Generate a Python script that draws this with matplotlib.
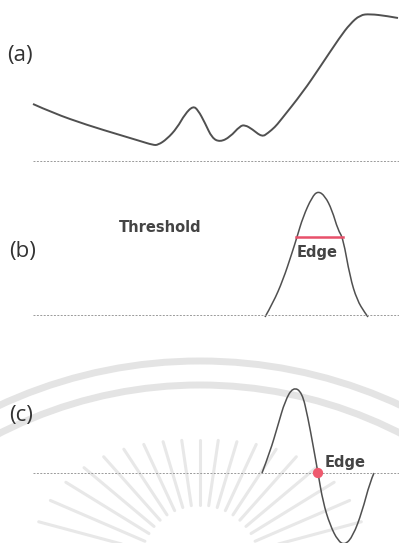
import numpy as np
import matplotlib.pyplot as plt
from matplotlib.patches import Arc, PathPatch
from matplotlib.path import Path

# panel (a): absorption-like spectrum, height above baseline
a_x = [33, 53, 87, 120, 140, 153, 158, 167, 177, 185, 193, 198, 205, 212, 220,
       230, 240, 245, 252, 262, 268, 275, 280, 303, 320, 340, 350, 360, 370, 387, 398]
a_y = [57, 48, 36, 26, 20, 16, 16, 22, 33, 47, 55, 51, 38, 23, 19,
       24, 35, 36, 32, 24, 28, 34, 40, 69, 94, 124, 137, 146, 147, 145, 143]

# panel (b): first derivative peak
b_x = [265, 273, 283, 292, 297, 303, 312, 318, 325, 332, 338, 343, 350, 357, 365, 368]
b_y = [-2, 12, 35, 62, 78, 98, 118, 124, 119, 105, 85, 77, 38, 15, 2, -2]
b_threshold = 78
b_thr_x = [296, 343]

# panel (c): second derivative, zero crossing
c_x = [262, 270, 278, 285, 293, 302, 308, 313, 318, 323, 330, 338, 345, 353, 362, 370, 374]
c_y = [0, 21, 48, 72, 86, 81, 55, 28, 0, -29, -52, -68, -72, -63, -39, -9, 0]
c_edge = (318, 0)

W, H = 399, 543
fig = plt.figure(figsize=(W / 100, H / 100), dpi=100)
fig.patch.set_facecolor('white')

# faint watermark in the background
bg = fig.add_axes([0, 0, 1, 1])
bg.set_xlim(0, W)
bg.set_ylim(H, 0)
bg.axis('off')
wm = '#e4e4e4'
bg.add_patch(Arc((200, 837), 2 * 476, 2 * 476, theta1=180, theta2=360, color=wm, lw=5))
bg.add_patch(Arc((200, 825), 2 * 440, 2 * 440, theta1=180, theta2=360, color=wm, lw=5))
for ang in np.linspace(15, 165, 19):
    t = np.radians(ang)
    r_out = 125 + 45 * np.cos(t) ** 2
    bg.plot([200 + 60 * np.cos(t), 200 + r_out * np.cos(t)],
            [565 - 60 * np.sin(t), 565 - r_out * np.sin(t)],
            color='#e8e8e8', lw=2.2, solid_capstyle='round')

line_col = '#505050'
txt_col = '#333333'


def smooth(ax, xs, ys, **kw):
    # quadratic bezier through the midpoints, data points act as control points
    pts = list(zip(xs, ys))
    verts = [pts[0]]
    codes = [Path.MOVETO]
    for i in range(1, len(pts) - 1):
        mid = ((pts[i][0] + pts[i + 1][0]) / 2, (pts[i][1] + pts[i + 1][1]) / 2)
        if i == len(pts) - 2:
            mid = pts[-1]
        verts += [pts[i], mid]
        codes += [Path.CURVE3, Path.CURVE3]
    ax.add_patch(PathPatch(Path(verts, codes), fill=False, **kw))


def panel(top, bottom, base):
    # band of the figure in pixels, baseline position in pixels
    ax = fig.add_axes([0, 1 - bottom / H, 1, (bottom - top) / H])
    ax.set_xlim(0, W)
    ax.set_ylim(-(bottom - base), base - top)
    ax.axis('off')
    ax.patch.set_alpha(0)
    ax.plot([33, W], [0, 0], color='#9a9a9a', lw=0.7, ls=(0, (2, 1.5)))
    return ax


ax1 = panel(0, 180, 161)
smooth(ax1, a_x, a_y, edgecolor=line_col, lw=1.4)
ax1.text(7, 161 - 56, '(a)', fontsize=16, family='Open Sans', color=txt_col, va='center')

ax2 = panel(180, 330, 315)
smooth(ax2, b_x, b_y, edgecolor=line_col, lw=1.1)
ax2.plot(b_thr_x, [b_threshold, b_threshold], color='#e8506a', lw=1.8)
ax2.text(119, 315 - 227, 'Threshold', fontsize=10.5, fontweight='bold',
         color='#444444', va='center')
ax2.text(297, 315 - 252, 'Edge', fontsize=10.5, fontweight='bold', color='#444444', va='center')
ax2.text(9, 315 - 252, '(b)', fontsize=16, family='Open Sans', color=txt_col, va='center')

ax3 = panel(330, 543, 473)
smooth(ax3, c_x, c_y, edgecolor=line_col, lw=1.1)
ax3.scatter([c_edge[0]], [c_edge[1]], s=55, color='#ee5a6e', zorder=5, edgecolors='none')
ax3.text(325, 473 - 462, 'Edge', fontsize=10.5, fontweight='bold', color='#444444', va='center')
ax3.text(9, 473 - 416, '(c)', fontsize=16, family='Open Sans', color=txt_col, va='center')

fig.savefig('out.png', dpi=100)
